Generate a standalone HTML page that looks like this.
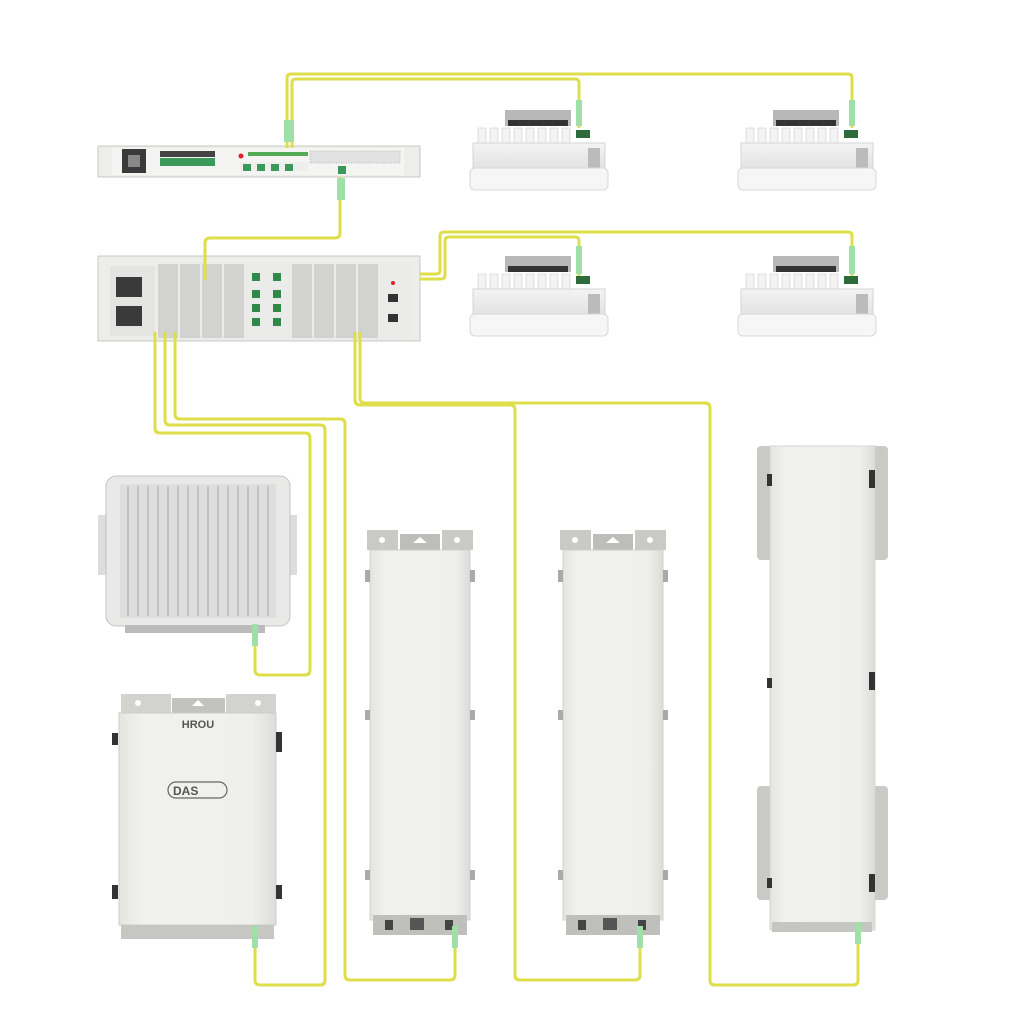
<!DOCTYPE html>
<html><head><meta charset="utf-8"><style>
html,body{margin:0;padding:0;background:#fff;width:1024px;height:1024px;overflow:hidden}
svg{display:block}
</style></head><body>
<svg width="1024" height="1024" viewBox="0 0 1024 1024" xmlns="http://www.w3.org/2000/svg" font-family="Liberation Sans, sans-serif">
<defs>
<linearGradient id="bd" x1="0" x2="1"><stop offset="0" stop-color="#e4e4e0"/><stop offset="0.15" stop-color="#f1f1ee"/><stop offset="0.85" stop-color="#efefec"/><stop offset="1" stop-color="#dcdcd8"/></linearGradient>
<linearGradient id="ru" x1="0" y1="0" x2="0" y2="1"><stop offset="0" stop-color="#f4f4f4"/><stop offset="1" stop-color="#e2e2e2"/></linearGradient>
<g id="remote">
<rect x="35" y="0" width="66" height="16" fill="#b8b8b8"/>
<rect x="38" y="10" width="60" height="6" fill="#333"/>
<g fill="#f3f3f3" stroke="#ccc" stroke-width="0.6">
<rect x="8" y="18" width="8" height="18"/><rect x="20" y="18" width="8" height="18"/><rect x="32" y="18" width="8" height="18"/><rect x="44" y="18" width="8" height="18"/><rect x="56" y="18" width="8" height="18"/><rect x="68" y="18" width="8" height="18"/><rect x="80" y="18" width="8" height="18"/><rect x="92" y="18" width="8" height="18"/>
</g>
<rect x="106" y="20" width="14" height="8" fill="#2d6b3a"/>
<rect x="3" y="33" width="132" height="26" fill="url(#ru)" stroke="#d4d4d4"/>
<rect x="118" y="38" width="12" height="20" fill="#bbb"/>
<rect x="0" y="58" width="138" height="22" rx="5" fill="#f6f6f6" stroke="#d8d8d8"/>
</g>
<g id="tall">
<rect x="2" y="0" width="31" height="20" fill="#c9c9c6"/><rect x="77" y="0" width="31" height="20" fill="#c9c9c6"/>
<rect x="35" y="4" width="40" height="16" fill="#bdbdba"/>
<polygon points="55,7 62,13 48,13" fill="#fff"/>
<circle cx="17" cy="10" r="3" fill="#fff"/><circle cx="92" cy="10" r="3" fill="#fff"/>
<rect x="5" y="20" width="100" height="370" fill="url(#bd)" stroke="#d0d0cc"/>
<rect x="0" y="40" width="5" height="12" fill="#aaa"/><rect x="105" y="40" width="5" height="12" fill="#aaa"/>
<rect x="0" y="180" width="5" height="10" fill="#aaa"/><rect x="105" y="180" width="5" height="10" fill="#aaa"/>
<rect x="0" y="340" width="5" height="10" fill="#aaa"/><rect x="105" y="340" width="5" height="10" fill="#aaa"/>
<rect x="8" y="385" width="94" height="20" fill="#bfbfbc"/>
<rect x="20" y="390" width="8" height="10" fill="#444"/><rect x="45" y="388" width="14" height="12" fill="#555"/><rect x="80" y="390" width="8" height="10" fill="#444"/>
</g>
</defs>

<rect x="98" y="146" width="322" height="31" fill="#ededea" stroke="#c8c8c4"/>
<rect x="112" y="148" width="292" height="27" fill="#f4f4f2"/>
<rect x="122" y="149" width="24" height="24" fill="#3a3a3a"/>
<rect x="128" y="155" width="12" height="12" fill="#888"/>
<rect x="160" y="151" width="55" height="6" fill="#444"/>
<rect x="160" y="158" width="55" height="8" fill="#3b9a5a"/>
<circle cx="241" cy="156" r="2.5" fill="#d22"/>
<rect x="248" y="152" width="60" height="4" fill="#5a5"/>
<rect x="240" y="162" width="68" height="9" fill="#eee"/>
<rect x="243" y="164" width="8" height="7" fill="#3b9a5a"/><rect x="257" y="164" width="8" height="7" fill="#3b9a5a"/><rect x="271" y="164" width="8" height="7" fill="#3b9a5a"/><rect x="285" y="164" width="8" height="7" fill="#3b9a5a"/>
<rect x="310" y="151" width="90" height="12" fill="#e2e2e2" stroke="#bbb" stroke-dasharray="1 1.5"/>
<rect x="338" y="166" width="8" height="8" fill="#3b9a5a"/>

<rect x="98" y="256" width="322" height="85" fill="#ededea" stroke="#c8c8c4"/>
<rect x="110" y="266" width="45" height="70" fill="#e4e4e2"/>
<rect x="116" y="277" width="26" height="20" fill="#3a3a3a"/><rect x="116" y="306" width="26" height="20" fill="#3a3a3a"/>
<rect x="158" y="262" width="255" height="78" fill="#ebebe9"/>
<g fill="#999" opacity=".3">
<rect x="158" y="264" width="20" height="74"/><rect x="180" y="264" width="20" height="74"/><rect x="202" y="264" width="20" height="74"/><rect x="224" y="264" width="20" height="74"/>
<rect x="292" y="264" width="20" height="74"/><rect x="314" y="264" width="20" height="74"/><rect x="336" y="264" width="20" height="74"/><rect x="358" y="264" width="20" height="74"/>
</g>
<g fill="#2f8a4a"><rect x="252" y="273" width="8" height="8"/><rect x="252" y="290" width="8" height="8"/><rect x="252" y="304" width="8" height="8"/><rect x="252" y="318" width="8" height="8"/><rect x="273" y="273" width="8" height="8"/><rect x="273" y="290" width="8" height="8"/><rect x="273" y="304" width="8" height="8"/><rect x="273" y="318" width="8" height="8"/></g>
<rect x="388" y="294" width="10" height="8" fill="#333"/><rect x="388" y="314" width="10" height="8" fill="#333"/>
<circle cx="393" cy="283" r="2" fill="#d22"/>

<use href="#remote" x="470" y="110"/>
<use href="#remote" x="738" y="110"/>
<use href="#remote" x="470" y="256"/>
<use href="#remote" x="738" y="256"/>

<rect x="98" y="515" width="14" height="60" fill="#ddd"/><rect x="283" y="515" width="14" height="60" fill="#ddd"/>
<rect x="106" y="476" width="184" height="150" rx="10" fill="#e9e9e7" stroke="#c4c4c0"/>
<rect x="120" y="484" width="156" height="134" fill="#dedede"/>
<g stroke="#c2c2c2" stroke-width="2">
<line x1="128" y1="486" x2="128" y2="616"/><line x1="138" y1="486" x2="138" y2="616"/><line x1="148" y1="486" x2="148" y2="616"/><line x1="158" y1="486" x2="158" y2="616"/><line x1="168" y1="486" x2="168" y2="616"/><line x1="178" y1="486" x2="178" y2="616"/><line x1="188" y1="486" x2="188" y2="616"/><line x1="198" y1="486" x2="198" y2="616"/><line x1="208" y1="486" x2="208" y2="616"/><line x1="218" y1="486" x2="218" y2="616"/><line x1="228" y1="486" x2="228" y2="616"/><line x1="238" y1="486" x2="238" y2="616"/><line x1="248" y1="486" x2="248" y2="616"/><line x1="258" y1="486" x2="258" y2="616"/><line x1="268" y1="486" x2="268" y2="616"/>
</g>
<rect x="125" y="625" width="140" height="8" fill="#bbb"/>

<rect x="121" y="694" width="50" height="20" fill="#d2d2cf"/><rect x="226" y="694" width="50" height="20" fill="#d2d2cf"/>
<rect x="172" y="698" width="53" height="16" fill="#c2c2bf"/>
<polygon points="198,700 204,706 192,706" fill="#fff"/>
<circle cx="138" cy="703" r="3" fill="#fff"/><circle cx="258" cy="703" r="3" fill="#fff"/>
<rect x="119" y="713" width="157" height="212" fill="url(#bd)" stroke="#ccc"/>
<text x="198" y="728" font-size="11" font-weight="bold" fill="#555" text-anchor="middle">HROU</text>
<rect x="168" y="782" width="59" height="16" rx="8" fill="none" stroke="#666" stroke-width="1.2"/>
<text x="173" y="795" font-size="12" font-weight="bold" fill="#555">DAS</text>
<rect x="112" y="733" width="6" height="12" fill="#333"/><rect x="276" y="732" width="6" height="20" fill="#333"/>
<rect x="112" y="885" width="6" height="14" fill="#333"/><rect x="276" y="885" width="6" height="14" fill="#333"/>
<rect x="121" y="925" width="153" height="14" fill="#c6c6c3"/>

<use href="#tall" x="365" y="530"/>
<use href="#tall" x="558" y="530"/>
<g>
<rect x="757" y="446" width="131" height="114" rx="4" fill="#c9c9c6"/>
<rect x="757" y="786" width="131" height="114" rx="4" fill="#c9c9c6"/>
<rect x="770" y="446" width="105" height="484" fill="url(#bd)" stroke="#d4d4d0"/>
<rect x="767" y="474" width="5" height="12" fill="#333"/><rect x="869" y="470" width="6" height="18" fill="#333"/>
<rect x="767" y="678" width="5" height="10" fill="#333"/><rect x="869" y="672" width="6" height="18" fill="#333"/>
<rect x="767" y="878" width="5" height="10" fill="#333"/><rect x="869" y="874" width="6" height="18" fill="#333"/>
<rect x="772" y="922" width="100" height="10" fill="#c5c5c2"/>
</g>

<g fill="none" stroke="#dede4a" stroke-width="3" stroke-linejoin="round">
<path d="M287 148 V78 Q287 74 291 74 H848 Q852 74 852 78 V128"/>
<path d="M292 148 V83 Q292 79 296 79 H575 Q579 79 579 83 V128"/>
<path d="M340 177 V233 Q340 238 335 238 H210 Q205 238 205 243 V280"/>
<path d="M420 274 H436 Q440 274 440 270 V236 Q440 232 444 232 H848 Q852 232 852 236 V276"/>
<path d="M420 279 H441 Q445 279 445 275 V241 Q445 237 449 237 H575 Q579 237 579 241 V276"/>
<path d="M155 332 V428 Q155 433 160 433 H305 Q310 433 310 438 V670 Q310 675 305 675 H260 Q255 675 255 670 V640"/>
<path d="M165 332 V420 Q165 425 170 425 H320 Q325 425 325 430 V980 Q325 985 320 985 H260 Q255 985 255 980 V945"/>
<path d="M175 332 V414 Q175 419 180 419 H340 Q345 419 345 424 V975 Q345 980 350 980 H450 Q455 980 455 975 V945"/>
<path d="M355 332 V400 Q355 405 360 405 H510 Q515 405 515 410 V975 Q515 980 520 980 H635 Q640 980 640 975 V945"/>
<path d="M360 332 V398 Q360 403 365 403 H705 Q710 403 710 408 V980 Q710 985 715 985 H853 Q858 985 858 980 V935"/>
</g>
<g fill="#9fe0a8">
<rect x="284" y="120" width="10" height="22"/><rect x="337" y="178" width="8" height="22"/>
<rect x="576" y="100" width="6" height="26"/><rect x="849" y="100" width="6" height="26"/>
<rect x="576" y="246" width="6" height="28"/><rect x="849" y="246" width="6" height="28"/>
<rect x="252" y="624" width="6" height="22"/><rect x="252" y="926" width="6" height="22"/>
<rect x="452" y="926" width="6" height="22"/><rect x="637" y="926" width="6" height="22"/><rect x="855" y="922" width="6" height="22"/>
</g>
</svg>
</body></html>
